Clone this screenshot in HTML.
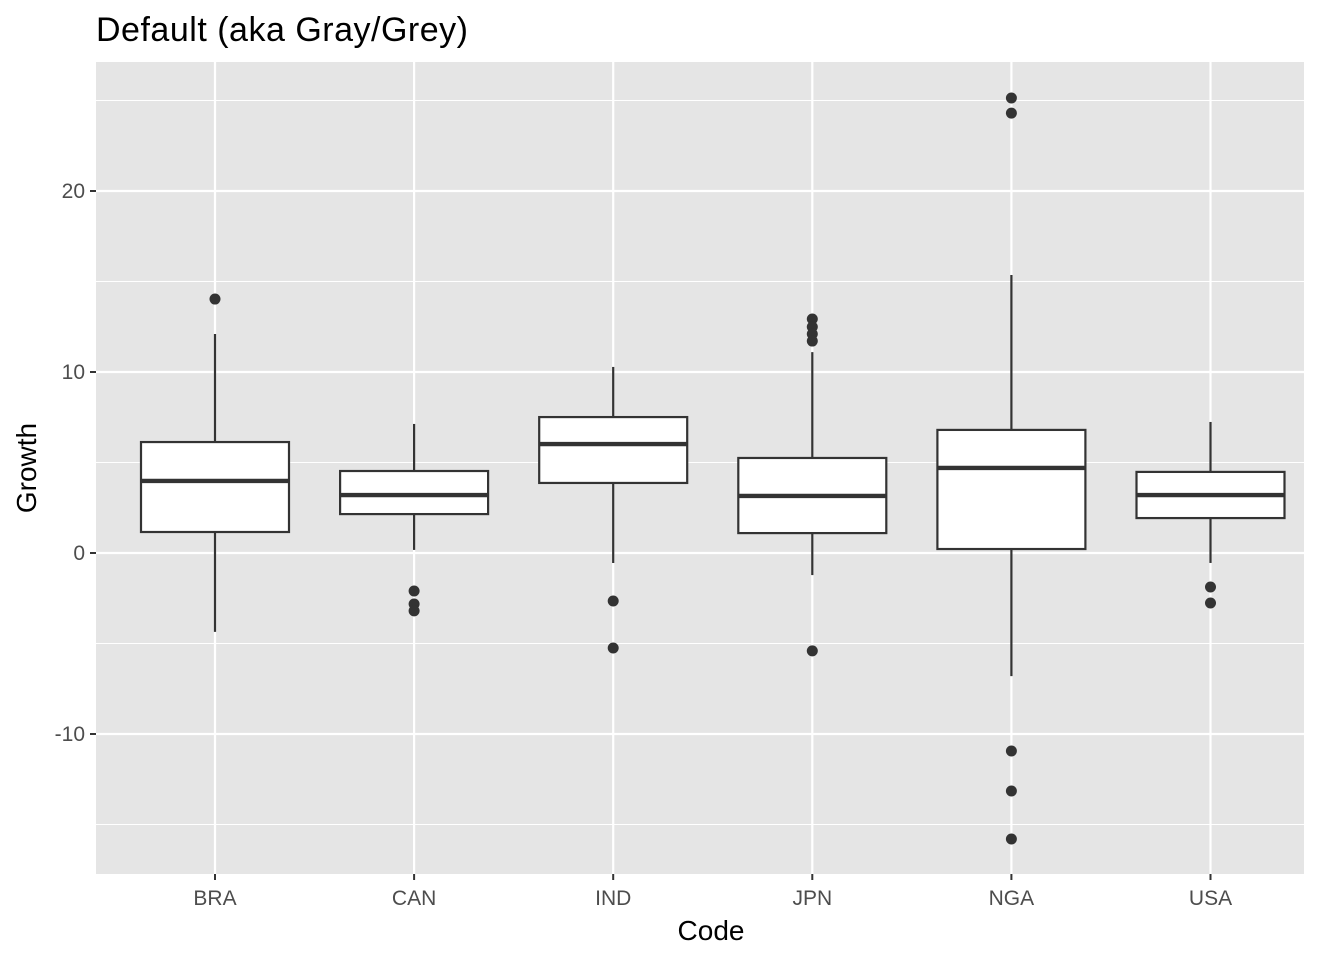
<!DOCTYPE html>
<html><head><meta charset="utf-8"><style>
body{margin:0;background:#fff;font-family:"Liberation Sans",Arial,sans-serif}
</style></head><body>
<svg id="c" width="1344" height="960" xmlns="http://www.w3.org/2000/svg">
<rect x="96" y="62" width="1208" height="812" fill="#e5e5e5"/>
<text x="96" y="41" font-size="34" textLength="372" fill="#000">Default (aka Gray/Grey)</text>
<g id="grid"></g><g id="marks"></g><g id="axes"></g>
<text x="711" y="940" font-size="28" text-anchor="middle" fill="#000">Code</text>
<text transform="translate(36,468) rotate(-90)" font-size="28" text-anchor="middle" fill="#000">Growth</text>
</svg>
<script>
const categories=["BRA","CAN","IND","JPN","NGA","USA"];
const lowerWhisker=[-4.36,0.17,-0.55,-1.22,-6.8,-0.55];
const q1=[1.16,2.15,3.87,1.1,0.22,1.93];
const median=[3.98,3.2,6.02,3.15,4.7,3.2];
const q3=[6.13,4.53,7.51,5.25,6.8,4.48];
const upperWhisker=[12.1,7.13,10.28,11.1,15.36,7.24];
const outliers=[[14.03],[-2.1,-2.82,-3.2],[-2.65,-5.25],[12.93,12.49,12.1,11.71,-5.41],[25.14,24.3,-10.94,-13.15,-15.8],[-1.88,-2.76]];
const majorTicks=[-10,0,10,20];
const minorTicks=[-15,-5,5,15,25];
const NS="http://www.w3.org/2000/svg";
function y(v){return 553-v*18.1;}
function x(i){return 215+i*199.1;}
function mk(p,t,a){const e=document.createElementNS(NS,t);for(const k in a)e.setAttribute(k,a[k]);p.appendChild(e);return e;}
const g=document.getElementById('grid'),m=document.getElementById('marks'),ax=document.getElementById('axes');
minorTicks.forEach(t=>{const l=mk(g,'line',{x1:96,x2:1304,y1:y(t),y2:y(t),stroke:'#fff','stroke-width':1});

});
majorTicks.forEach(t=>{const l=mk(g,'line',{x1:96,x2:1304,y1:y(t),y2:y(t),stroke:'#fff','stroke-width':2.2});


const tk=mk(ax,'line',{x1:90,x2:96,y1:y(t),y2:y(t),stroke:'#333','stroke-width':2});


const tx=mk(ax,'text',{x:85,y:y(t)+7,'font-size':21,'text-anchor':'end',fill:'#4d4d4d'});tx.textContent=t;

});
categories.forEach((c,i)=>{const cx=x(i);
const vl=mk(g,'line',{x1:cx,x2:cx,y1:62,y2:874,stroke:'#fff','stroke-width':2.2});


const w1=mk(m,'line',{x1:cx,x2:cx,y1:y(upperWhisker[i]),y2:y(q3[i]),stroke:'#333','stroke-width':2.2});


const w2=mk(m,'line',{x1:cx,x2:cx,y1:y(q1[i]),y2:y(lowerWhisker[i]),stroke:'#333','stroke-width':2.2});


const b=mk(m,'rect',{x:cx-74,y:y(q3[i]),width:148,height:y(q1[i])-y(q3[i]),fill:'#fff',stroke:'#333','stroke-width':2.2});


const md=mk(m,'line',{x1:cx-74,x2:cx+74,y1:y(median[i]),y2:y(median[i]),stroke:'#333','stroke-width':4.4});


outliers[i].forEach(o=>{const p=mk(m,'circle',{cx:cx,cy:y(o),r:5.5,fill:'#333'});

});
const tk=mk(ax,'line',{x1:cx,x2:cx,y1:874,y2:880,stroke:'#333','stroke-width':2});


const tx=mk(ax,'text',{x:cx,y:905,'font-size':21,'text-anchor':'middle',fill:'#4d4d4d'});tx.textContent=c;

});
</script>
</body></html>
